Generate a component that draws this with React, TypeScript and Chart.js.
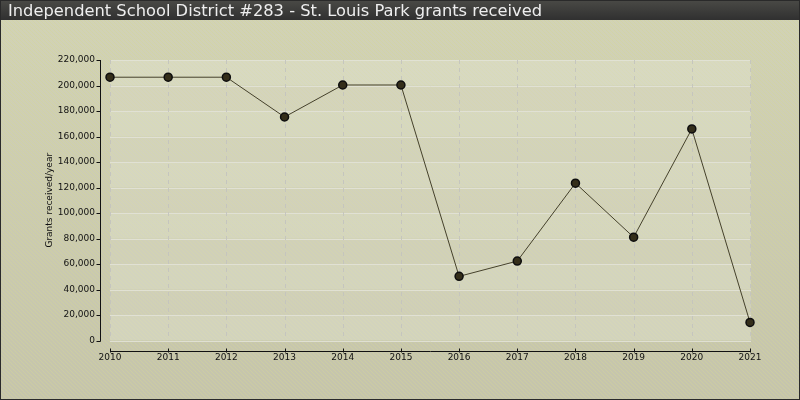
import React, { useEffect, useRef } from "react";
import { Chart, registerables } from "chart.js";

Chart.register(...registerables);

const TITLE = "Independent School District #283 - St. Louis Park grants received";
const Y_TITLE = "Grants received/year";
const years = ["2010", "2011", "2012", "2013", "2014", "2015", "2016", "2017", "2018", "2019", "2020", "2021"];
const grants = [206500, 206500, 206500, 175300, 200400, 200400, 50300, 62300, 123400, 81000, 165900, 14200];
const Y_MAX = 220000;
const Y_STEP = 20000;

function makeStripePattern(ctx: CanvasRenderingContext2D, color: string) {
  const c = document.createElement("canvas");
  c.width = 4;
  c.height = 4;
  const p = c.getContext("2d")!;
  p.strokeStyle = color;
  p.lineWidth = 1;
  p.beginPath();
  p.moveTo(0, 0);
  p.lineTo(4, 4);
  p.moveTo(-1, 3);
  p.lineTo(1, 5);
  p.moveTo(3, -1);
  p.lineTo(5, 1);
  p.stroke();
  return ctx.createPattern(c, "repeat")!;
}

const backgroundPlugin = {
  id: "bgPlugin",
  beforeDraw(chart: any) {
    const { ctx, width, height, chartArea } = chart;
    const x = chart.scales.x;
    const y = chart.scales.y;
    ctx.save();
    // page background
    const g = ctx.createLinearGradient(0, 0, 0, height);
    g.addColorStop(0, "#d2d3b6");
    g.addColorStop(1, "#c5c4ac");
    ctx.fillStyle = g;
    ctx.fillRect(0, 0, width, height);
    ctx.fillStyle = makeStripePattern(ctx, "rgba(212,216,150,0.45)");
    ctx.fillRect(0, 0, width, height);

    // plot area
    const left = chartArea.left;
    const right = chartArea.right + 1;
    for (let v = 0; v < Y_MAX; v += Y_STEP) {
      const yTop = y.getPixelForValue(v + Y_STEP);
      const yBot = y.getPixelForValue(v);
      const idx = v / Y_STEP;
      ctx.fillStyle = idx % 2 === 0 ? "rgba(228,230,212,0.40)" : "rgba(220,222,202,0.35)";
      ctx.fillRect(left, yTop, right - left, yBot - yTop);
    }
    // horizontal separators
    ctx.strokeStyle = "rgba(226,226,214,0.9)";
    ctx.lineWidth = 1;
    for (let v = 0; v <= Y_MAX; v += Y_STEP) {
      const py = Math.round(y.getPixelForValue(v)) + 0.5;
      ctx.beginPath();
      ctx.moveTo(left, py);
      ctx.lineTo(right, py);
      ctx.stroke();
    }
    // vertical dashed grid
    ctx.strokeStyle = "rgba(195,195,190,0.9)";
    ctx.setLineDash([4, 4]);
    for (let i = 0; i < years.length; i++) {
      const px = Math.round(x.getPixelForValue(i)) + 0.5;
      ctx.beginPath();
      ctx.moveTo(px, chartArea.top);
      ctx.lineTo(px, chartArea.bottom);
      ctx.stroke();
    }
    ctx.setLineDash([]);

    // axes
    ctx.strokeStyle = "#111111";
    ctx.lineWidth = 1;
    const axX = Math.round(left - 10) + 0.5;
    ctx.beginPath();
    ctx.moveTo(axX, chartArea.top);
    ctx.lineTo(axX, chartArea.bottom + 1);
    ctx.stroke();
    for (let v = 0; v <= Y_MAX; v += Y_STEP) {
      const py = Math.round(y.getPixelForValue(v)) + 0.5;
      ctx.beginPath();
      ctx.moveTo(axX - 4, py);
      ctx.lineTo(axX, py);
      ctx.stroke();
    }
    const axY = Math.round(chartArea.bottom + 10) + 0.5;
    ctx.beginPath();
    ctx.moveTo(x.getPixelForValue(0), axY);
    ctx.lineTo(x.getPixelForValue(years.length - 1) + 1, axY);
    ctx.stroke();
    for (let i = 0; i < years.length; i++) {
      const px = Math.round(x.getPixelForValue(i)) + 0.5;
      ctx.beginPath();
      ctx.moveTo(px, axY - 3);
      ctx.lineTo(px, axY + 1);
      ctx.stroke();
    }

    // title bar
    const tg = ctx.createLinearGradient(0, 0, 0, 20);
    tg.addColorStop(0, "#4a4a46");
    tg.addColorStop(1, "#303030");
    ctx.fillStyle = tg;
    ctx.fillRect(0, 0, width, 20);
    ctx.fillStyle = "#eeeeee";
    ctx.font = "16.3px 'DejaVu Sans'";
    ctx.textBaseline = "alphabetic";
    ctx.textAlign = "left";
    ctx.fillText(TITLE, 8, 16);

    // outer border
    ctx.strokeStyle = "#2a2a2a";
    ctx.strokeRect(0.5, 0.5, width - 1, height - 1);
    ctx.restore();
  },
};

export default function App() {
  const ref = useRef<HTMLCanvasElement>(null);
  useEffect(() => {
    if (!ref.current) return;
    const chart = new Chart(ref.current, {
      type: "line",
      data: {
        labels: years,
        datasets: [
          {
            data: grants,
            borderColor: "#45412b",
            borderWidth: 1,
            pointRadius: 4,
            pointHoverRadius: 4,
            pointBackgroundColor: "#342e1a",
            pointBorderColor: "#0e0e0e",
            pointBorderWidth: 1.5,
            tension: 0,
            clip: false as any,
          },
        ],
      },
      options: {
        animation: false,
        responsive: false,
        devicePixelRatio: 1,
        layout: { padding: { left: 0, right: 50, top: 60, bottom: 0 } },
        plugins: { legend: { display: false }, tooltip: { enabled: false } },
        scales: {
          x: {
            type: "category",
            offset: false,
            grid: { display: false, drawTicks: false },
            border: { display: false },
            ticks: {
              padding: 12,
              color: "#111111",
              font: { family: "'DejaVu Sans'", size: 9 },
              maxRotation: 0,
              autoSkip: false,
            },
            afterFit: (s: any) => {
              s.height = 59.5;
            },
          },
          y: {
            min: 0,
            max: Y_MAX,
            grid: { display: false, drawTicks: false },
            border: { display: false },
            ticks: {
              stepSize: Y_STEP,
              padding: 15,
              color: "#111111",
              font: { family: "'DejaVu Sans'", size: 9 },
              callback: (v: any) => Number(v).toLocaleString("en-US"),
            },
            title: {
              display: true,
              text: Y_TITLE,
              color: "#111111",
              font: { family: "'DejaVu Sans'", size: 9 },
              padding: { top: 44.6, bottom: 0 },
            },
            afterFit: (s: any) => {
              s.width = 110;
            },
          },
        },
      },
      plugins: [backgroundPlugin],
    });
    return () => chart.destroy();
  }, []);
  return (
    <div style={{ position: "absolute", left: 0, top: 0, width: 800, height: 400 }}>
      <canvas ref={ref} width={800} height={400} style={{ display: "block", width: 800, height: 400 }} />
    </div>
  );
}
